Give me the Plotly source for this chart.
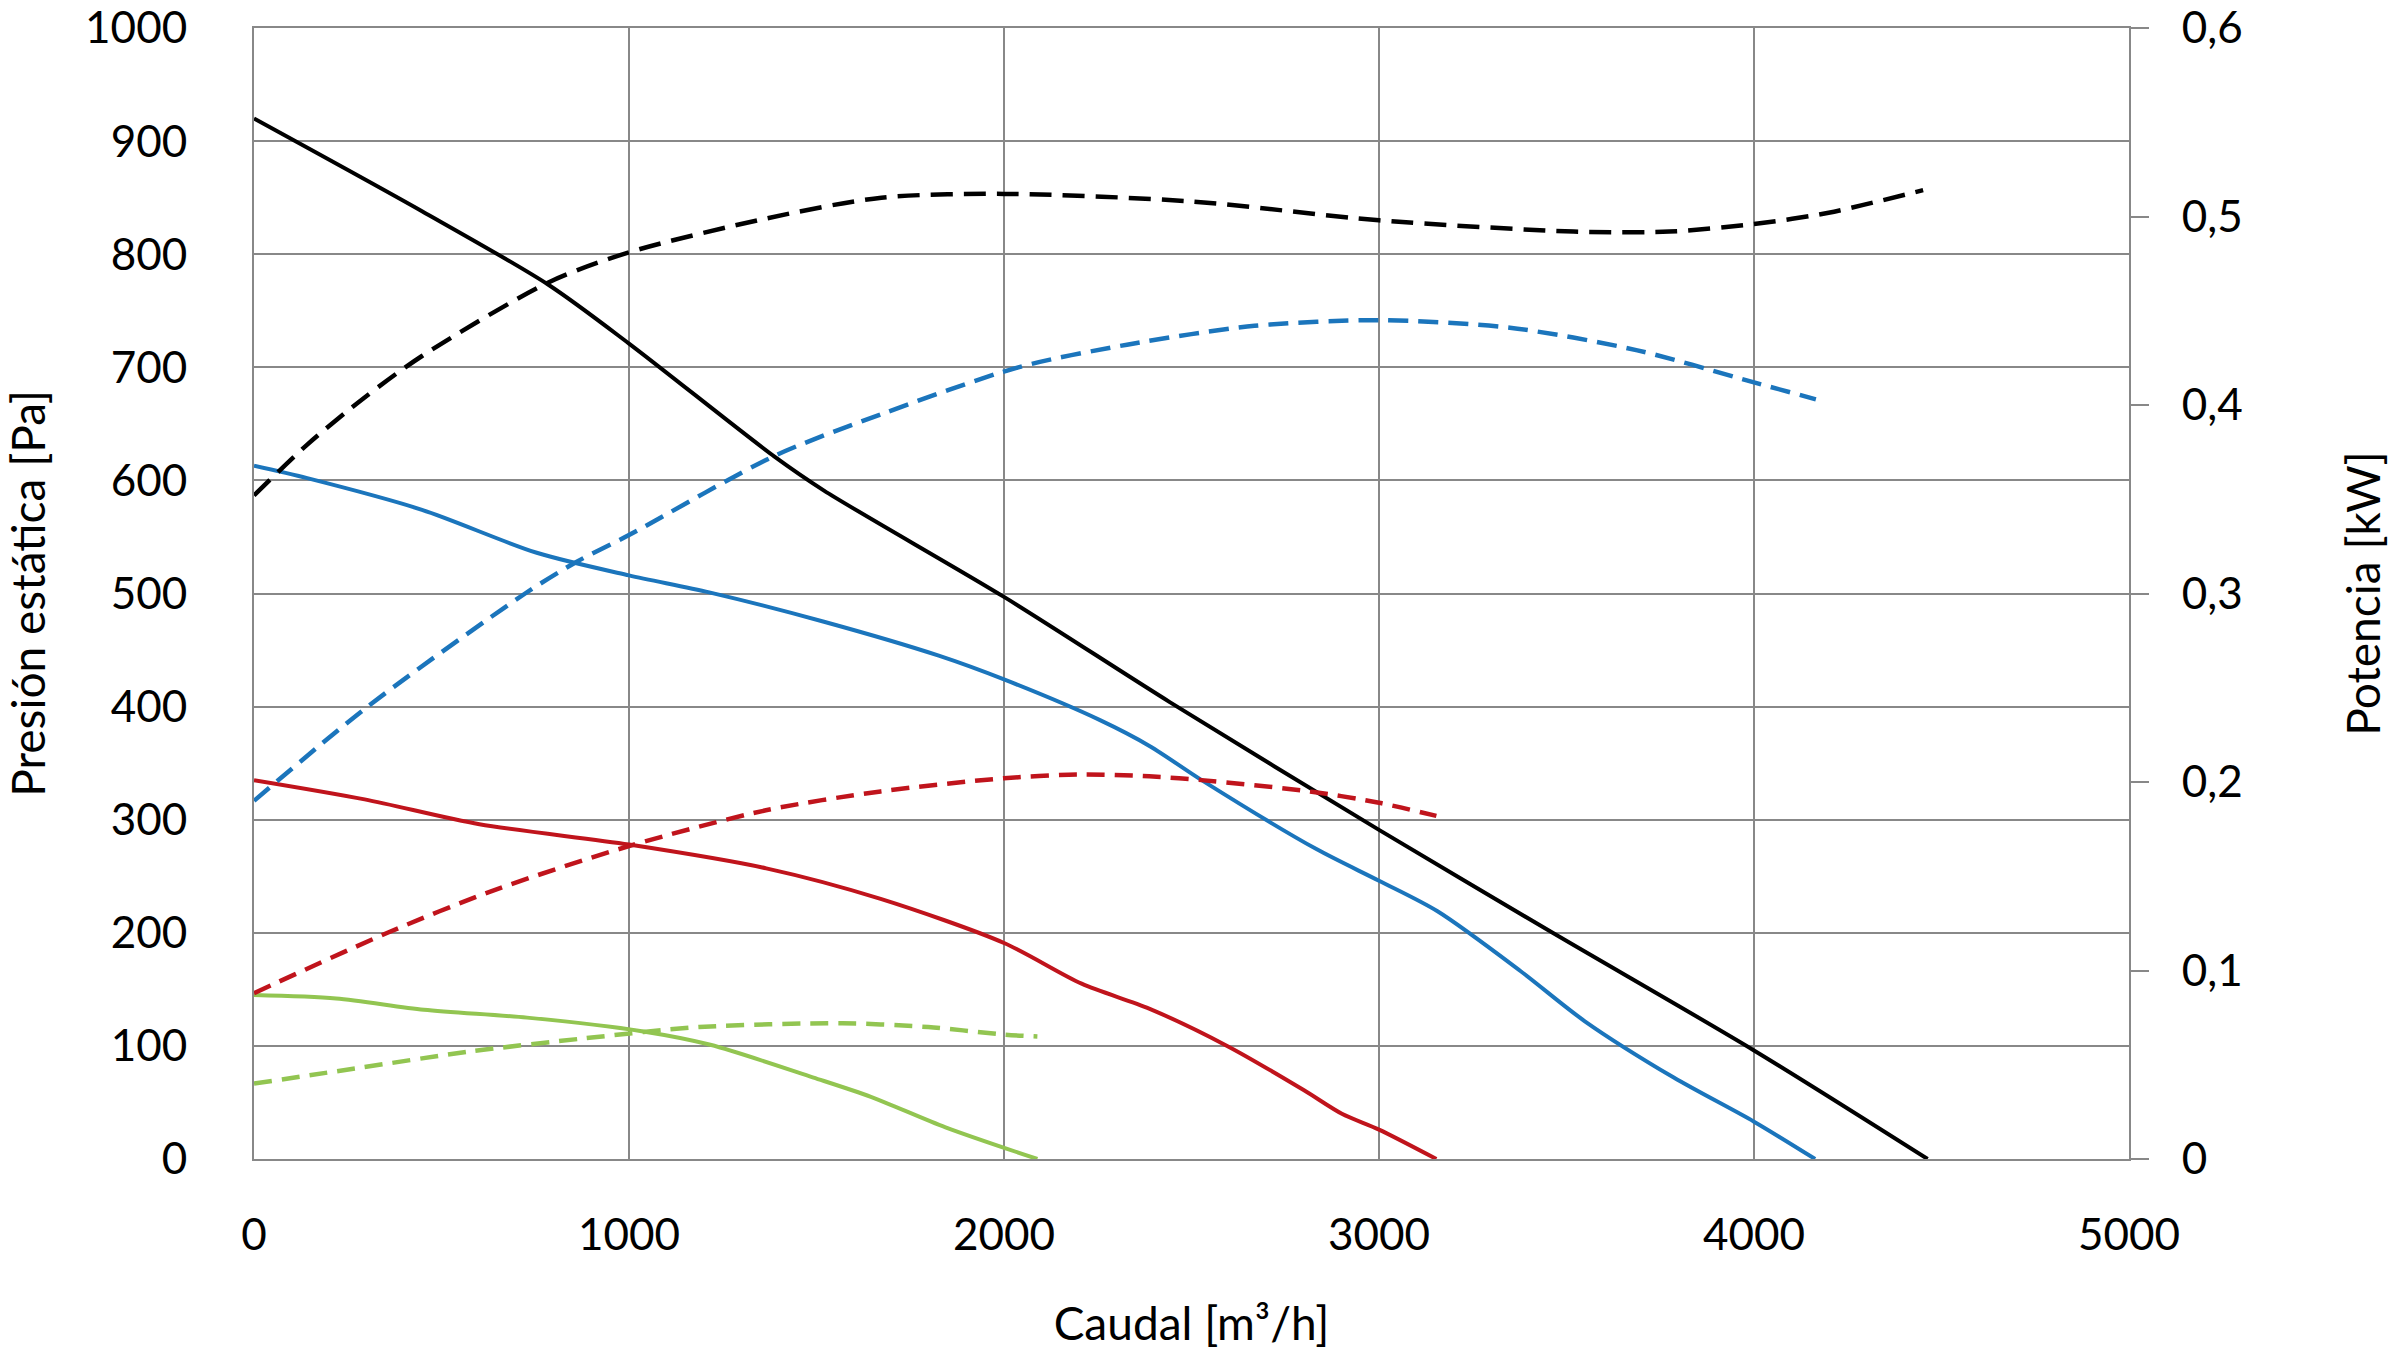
import plotly.graph_objects as go

# ---- data ----
black_q = [0, 448, 785, 1000, 1388, 1520, 2000, 2442, 3000, 3463, 4000, 4463]
black_p = [920, 838, 773, 721, 621, 591, 497, 404, 291, 200, 96, 0]
black_kw_q = [0, 142, 295, 448, 785, 1000, 1367, 1673, 2000, 2498, 3000, 3519, 3774, 4000, 4199, 4451]
black_kw = [0.352, 0.379, 0.404, 0.426, 0.465, 0.481, 0.499, 0.510, 0.512, 0.508, 0.498, 0.492, 0.492, 0.496, 0.502, 0.514]

blue_q = [0, 142, 448, 754, 1000, 1214, 1520, 1826, 2000, 2256, 2389, 2527, 2833, 3000, 3156, 3378, 3548, 3786, 4000, 4163]
blue_p = [613, 602, 574, 536, 516, 501, 475, 445, 424, 388, 365, 335, 274, 246, 219, 166, 122, 72, 33, 0]
blue_kw_q = [0, 303, 723, 862, 1000, 1388, 1671, 2038, 2328, 2668, 3000, 3349, 3689, 4000, 4165]
blue_kw = [0.190, 0.240, 0.300, 0.317, 0.331, 0.373, 0.395, 0.420, 0.432, 0.442, 0.445, 0.441, 0.429, 0.412, 0.403]

red_q = [0, 295, 601, 1000, 1366, 1671, 2000, 2207, 2387, 2595, 2799, 2901, 3000, 3153]
red_p = [335, 318, 296, 278, 257, 230, 191, 155, 133, 100, 61, 40, 26, 0]
red_kw_q = [0, 356, 632, 1000, 1365, 1671, 2000, 2207, 2387, 2527, 2816, 3000, 3153]
red_kw = [0.088, 0.120, 0.142, 0.166, 0.185, 0.195, 0.202, 0.204, 0.203, 0.201, 0.195, 0.189, 0.182]

green_q = [0, 219, 453, 728, 1034, 1217, 1492, 1645, 1844, 2089]
green_p = [145, 142, 132, 125, 113, 101, 72, 55, 28, 0]
green_kw_q = [0, 269, 575, 881, 1187, 1569, 1798, 2000, 2089]
green_kw = [0.040, 0.048, 0.057, 0.064, 0.070, 0.072, 0.070, 0.066, 0.065]

x_ticks = [0, 1000, 2000, 3000, 4000, 5000]
y_ticks = [0, 100, 200, 300, 400, 500, 600, 700, 800, 900, 1000]
y2_ticks = [0, 0.1, 0.2, 0.3, 0.4, 0.5, 0.6]
y2_labels = ["0", "0,1", "0,2", "0,3", "0,4", "0,5", "0,6"]

BLACK = "#000000"
BLUE = "#1B75BC"
RED = "#C0141C"
GREEN = "#92C551"
GRID = "#888888"
FONT = "Lato"

fig = go.Figure()

def add(x, y, color, width, dash, axis):
    fig.add_trace(go.Scatter(
        x=x, y=y, mode="lines", yaxis=axis, showlegend=False,
        line=dict(color=color, width=width, dash=dash, shape="spline", smoothing=0.8),
        hoverinfo="x+y"))

add(green_q, green_p, GREEN, 4, "solid", "y")
add(red_q, red_p, RED, 4, "solid", "y")
add(blue_q, blue_p, BLUE, 4, "solid", "y")
add(black_q, black_p, BLACK, 4, "solid", "y")
add(green_kw_q, green_kw, GREEN, 4.5, "18px,10px", "y2")
add(red_kw_q, red_kw, RED, 4.5, "18px,10px", "y2")
add(blue_kw_q, blue_kw, BLUE, 4.5, "20px,10px", "y2")
add(black_kw_q, black_kw, BLACK, 4.5, "22px,11px", "y2")

tickfont = dict(family=FONT, size=44, color="#000000")
titlefont = dict(family=FONT, size=46, color="#000000")

fig.update_layout(
    width=2396, height=1357,
    margin=dict(l=254, r=267, t=28, b=198, autoexpand=False),
    paper_bgcolor="white", plot_bgcolor="white",
    xaxis=dict(range=[0, 5000], tickvals=x_ticks, showgrid=True, gridcolor=GRID, gridwidth=2,
               showline=True, linecolor=GRID, linewidth=2, mirror=True, ticks="",
               tickfont=tickfont, ticklabelstandoff=36, zeroline=False,
               ticklabeloverflow="allow",
               title=dict(text="Caudal [m³/h]", font=titlefont, standoff=50)),
    yaxis=dict(range=[0, 1000], tickvals=y_ticks, showgrid=True, gridcolor=GRID, gridwidth=2,
               showline=True, linecolor=GRID, linewidth=2, ticks="", zeroline=False,
               tickfont=tickfont, ticklabelstandoff=56, ticklabeloverflow="allow",
               title=dict(text="Presión estática [Pa]", font=titlefont, standoff=68)),
    yaxis2=dict(range=[0, 0.6], overlaying="y", side="right", tickvals=y2_ticks, ticktext=y2_labels,
                showgrid=False, showline=True, linecolor=GRID, linewidth=2, zeroline=False,
                ticks="outside", ticklen=18, tickwidth=2, tickcolor=GRID,
                tickfont=tickfont, ticklabelstandoff=24, ticklabeloverflow="allow",
                title=dict(text="Potencia [kW]", font=titlefont, standoff=106)),
)

fig.write_html("out.html", config={"displayModeBar": False},
               post_script="document.body.style.margin='0';")
